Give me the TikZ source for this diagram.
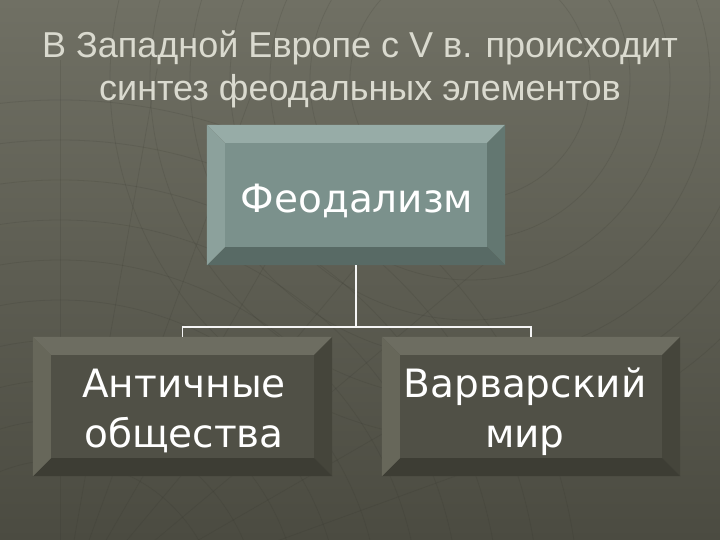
\documentclass[tikz,border=0pt]{standalone}
\usepackage{fontspec}
\setmainfont{Liberation Sans}
\newfontfamily\boxfont{DejaVu Sans}
\definecolor{bgtop}{HTML}{707064}
\definecolor{bgbot}{HTML}{4B4B41}
\definecolor{titlecol}{HTML}{DADACF}
\definecolor{fface}{HTML}{7B918C}
\definecolor{ftop}{HTML}{97ACA7}
\definecolor{fleft}{HTML}{8CA19C}
\definecolor{fright}{HTML}{637771}
\definecolor{fbot}{HTML}{586A65}
\definecolor{dface}{HTML}{505046}
\definecolor{dtop}{HTML}{6D6D61}
\definecolor{dleft}{HTML}{67675A}
\definecolor{dright}{HTML}{45453B}
\definecolor{dbot}{HTML}{3D3D34}
\definecolor{meshcol}{HTML}{2E2E26}
\tikzset{
  boxtext/.style={font=\boxfont\fontsize{39}{50}\selectfont, text=white, align=center, inner sep=0pt},
  titletext/.style={font=\fontsize{36}{43}\selectfont, text=titlecol, align=center, inner sep=0pt},
  conn/.style={draw=white!92!gray, line width=1.1pt},
  mesh/.style={draw=meshcol, opacity=0.14, line width=0.8pt}
}
\newcommand\bevelbox[7]{% name, face, top, right, bottom, left, bevel
  \fill[#3] (#1.north west) -- (#1.north east) -- ([shift={(-#7,-#7)}]#1.north east) -- ([shift={(#7,-#7)}]#1.north west) -- cycle;
  \fill[#4] (#1.north east) -- (#1.south east) -- ([shift={(-#7,#7)}]#1.south east) -- ([shift={(-#7,-#7)}]#1.north east) -- cycle;
  \fill[#5] (#1.south east) -- (#1.south west) -- ([shift={(#7,#7)}]#1.south west) -- ([shift={(-#7,#7)}]#1.south east) -- cycle;
  \fill[#6] (#1.south west) -- (#1.north west) -- ([shift={(#7,-#7)}]#1.north west) -- ([shift={(#7,#7)}]#1.south west) -- cycle;
  \fill[#2] ([shift={(#7,-#7)}]#1.north west) rectangle ([shift={(-#7,#7)}]#1.south east);
}
\begin{document}
\begin{tikzpicture}[x=1pt,y=-1pt]
\useasboundingbox (0,0) rectangle (720,540);
\shade[top color=bgtop, bottom color=bgbot] (0,0) rectangle (720,540);
% faint background mesh
\begin{scope}
\clip (0,0) rectangle (720,540);
\foreach \r in {160,200,...,520} \draw[mesh] (60,620) circle[radius=\r];
\foreach \a in {20,30,...,90} \draw[mesh] (60,620) -- ++(-\a:560);
\foreach \r in {120,160,...,360} \draw[mesh] (470,80) circle[radius=\r];
\end{scope}
% title
\node[titletext, anchor=base] (title1) at (360,58) {В Западной Европе с V в. происходит};
\node[titletext, anchor=base] (title2) at (360,101) {синтез феодальных элементов};
% boxes
\node[minimum width=298pt, minimum height=140pt, inner sep=0pt] (feod) at (356,195) {};
\node[minimum width=299pt, minimum height=139pt, inner sep=0pt] (anti) at (182.5,406.5) {};
\node[minimum width=298pt, minimum height=139pt, inner sep=0pt] (varv) at (531,406.5) {};
\bevelbox{feod}{fface}{ftop}{fright}{fbot}{fleft}{18pt}
\bevelbox{anti}{dface}{dtop}{dright}{dbot}{dleft}{18pt}
\bevelbox{varv}{dface}{dtop}{dright}{dbot}{dleft}{18pt}
\node[boxtext, anchor=base] (feodtxt) at (357,212) {Феодализм};
\node[boxtext, anchor=base] (antitxt) at (184,447) {Античные\\общества};
\node[boxtext, anchor=base] (varvtxt) at (525,447) {Варварский\\мир};
% connectors
\coordinate (junc) at (356,327);
\draw[conn] (feod.south) -- (junc);
\draw[conn] (anti.north) |- (junc) -| (varv.north);
\end{tikzpicture}
\end{document}
